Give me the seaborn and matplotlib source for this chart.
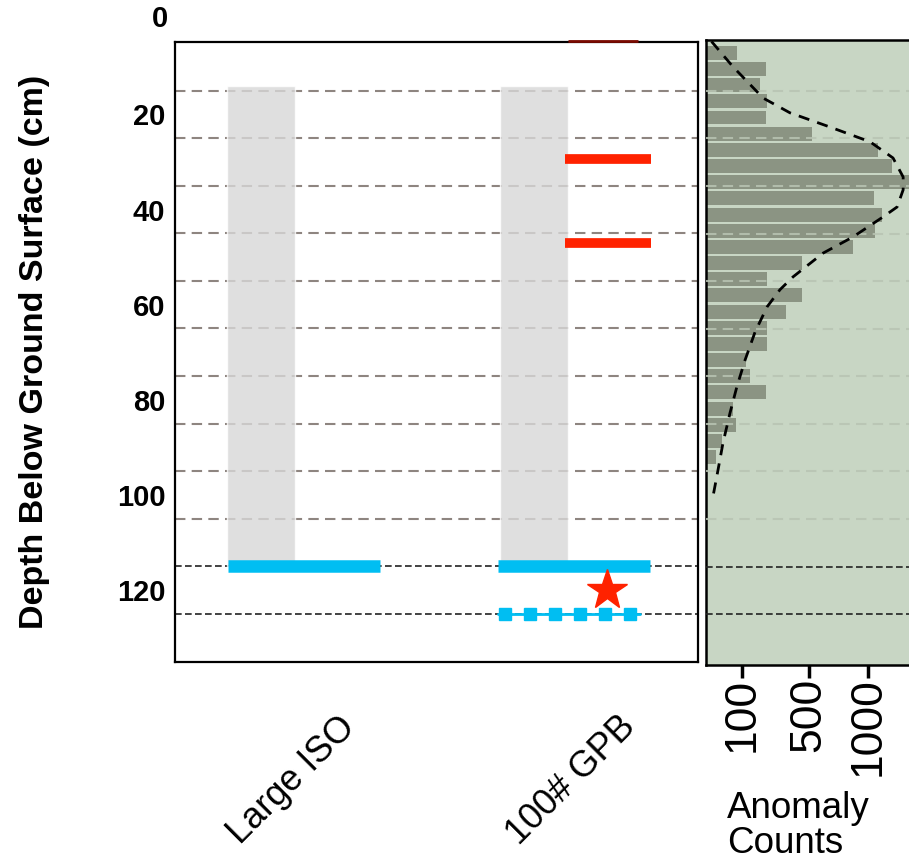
import numpy as np
import matplotlib
matplotlib.use("Agg")
import matplotlib.pyplot as plt
import matplotlib.transforms as mtransforms
import seaborn as sns

# ---- data ----
categories = ["Large ISO", "100# GPB"]
probe_top = [14, 14]           # cm, top of probed column
probe_bottom = [115, 115]      # cm, refusal depth
refusal_depth = [115, 115]
gpb_red_depths = [29.3, 47.0]
star_depth = 120
dotted_depth = 125
grid_light = [15, 25, 35, 45, 55, 65, 75, 85, 95, 105]
grid_dark = [115, 125]

hist_depth = [7.0, 10.4, 13.8, 17.2, 20.6, 24.0, 27.4, 30.8, 34.2, 37.6, 41.0, 44.4, 47.8,
              51.2, 54.6, 58.0, 61.4, 64.8, 68.2, 71.6, 75.0, 78.4, 81.8, 85.2, 88.6, 92.0]
hist_count = [78, 218, 185, 222, 218, 518, 1092, 1233, 1450, 1054, 1133, 1066, 858,
              445, 224, 446, 338, 224, 224, 117, 135, 218, 63, 75, 29, 14]

kde_depth = [4.6, 9.9, 16.5, 19.6, 22.6, 25.7, 29.1, 33.1, 35.8, 39.4, 41.5, 45.7,
             49.1, 54.1, 56.8, 60.4, 65.7, 71.6, 77.2, 82.7, 89.0, 94.7, 100.6]
kde_count = [6, 64, 202, 364, 663, 1018, 1245, 1350, 1350, 1287, 1144, 860,
             607, 385, 300, 224, 160, 113, 79, 54, 32, 19, 8]

sns.set_style("white")
plt.rcParams["font.family"] = ["Liberation Sans", "DejaVu Sans"]
plt.rcParams["text.color"] = "black"
plt.rcParams["xtick.color"] = "black"
plt.rcParams["ytick.color"] = "black"
plt.rcParams["axes.labelcolor"] = "black"

blue = "#00bef2"
red = "#ff2200"

fig = plt.figure(figsize=(9.09, 8.68), dpi=100)
ax = fig.add_axes([0.1925, 0.2373, 0.5754, 0.7143])
axh = fig.add_axes([0.7763, 0.2339, 0.2237, 0.7200])

# ---- left panel: probe columns ----
xpos = np.arange(len(categories))
ax.set_xlim(-0.625, 1.243)
ax.set_ylim(135.1, 4.8)

for d in grid_light:
    ax.axhline(d, color="#8e8580", ls=(0, (5, 3)), lw=1.5, zorder=1)
for d in grid_dark:
    ax.axhline(d, color="#222222", ls=(0, (4, 2)), lw=1.2, zorder=1)

ax.bar(xpos - 0.33 + np.array([0.012, -0.013]), np.array(probe_bottom) - np.array(probe_top),
       bottom=probe_top, width=0.243, color="#d8d8d8", alpha=0.8, zorder=2)
ax.hlines(refusal_depth, xpos - np.array([0.436, 0.471]), xpos + np.array([0.107, 0.071]),
          color=blue, lw=9, zorder=3)
ax.hlines(gpb_red_depths, xpos[1] - 0.232, xpos[1] + 0.075, color=red, lw=7, zorder=3)
ax.hlines(4.6, xpos[1] - 0.22, xpos[1] + 0.03, color="#7a0a00", lw=2, zorder=4, clip_on=False)
ax.plot([xpos[1] - 0.082], [star_depth], marker="*", ms=30, color=red, zorder=4)
ax.plot([xpos[1] - 0.471, xpos[1] + 0.036], [dotted_depth] * 2, color=blue, lw=2, zorder=3)
sq_x = np.linspace(xpos[1] - 0.446, xpos[1], 6)
ax.plot(sq_x, [dotted_depth] * len(sq_x), "s", ms=9, color=blue, zorder=4)

ax.set_xticks(xpos)
ax.set_xticklabels(categories, rotation=45, ha="right", va="center",
                   rotation_mode="anchor", fontsize=26)
ax.tick_params(axis="x", length=0, pad=43)
ax.set_yticks([20, 40, 60, 80, 100, 120])
ax.set_yticklabels(["20", "40", "60", "80", "100", "120"], fontsize=21, fontweight="bold")
ax.tick_params(axis="y", length=0, pad=7)
trans = mtransforms.blended_transform_factory(ax.transAxes, ax.transData)
ax.text(-0.0134, 0, "0", transform=trans, ha="right", va="center",
        fontsize=21, fontweight="bold", clip_on=False)
for s in ax.spines.values():
    s.set_color("black")
    s.set_linewidth(1.6)

# ---- right panel: anomaly histogram ----
axh.set_facecolor("#c8d6c4")
sns.barplot(x=hist_count, y=hist_depth, orient="y", native_scale=True, color="#8b9483",
            saturation=1, width=0.86, errorbar=None, ax=axh, zorder=2,
            edgecolor="none", linewidth=0)
sns.lineplot(x=kde_count, y=kde_depth, sort=False, estimator=None, color="black",
             lw=2, linestyle=(0, (4, 3)), ax=axh, zorder=4)

fwd = lambda v: np.sign(v) * np.abs(v) ** 0.65
inv = lambda v: np.sign(v) * np.abs(v) ** (1 / 0.65)
axh.set_xscale("function", functions=(fwd, inv))
axh.set_xlim(0, 1412)
axh.set_ylim(135.7, 4.3)

for d in grid_light:
    axh.axhline(d, color="#b8c4b3", alpha=0.85, ls=(0, (5, 3)), lw=1.5, zorder=3)
for d in grid_dark:
    axh.axhline(d, color="#222222", ls=(0, (4, 2)), lw=1.2, zorder=3)

axh.set_yticks([])
axh.set_xticks([100, 500, 1000])
axh.set_xticklabels(["100", "500", "1000"], rotation=90, va="top", fontsize=32)
axh.xaxis.set_minor_locator(matplotlib.ticker.NullLocator())
axh.tick_params(axis="x", bottom=True, length=9, width=2.5, pad=0, color="black")
axh.set_xlabel("")
axh.set_ylabel("")
for k in ["top", "bottom", "left"]:
    axh.spines[k].set_color("black")
    axh.spines[k].set_linewidth(1.8)
axh.spines["right"].set_visible(False)

fig.text(35 / 909, 1 - 351.5 / 868, "Depth Below Ground Surface (cm)", rotation=90,
         fontsize=24.5, fontweight="bold", ha="center", va="center")
fig.text(727 / 909, 1 - 791 / 868, "Anomaly\nCounts", fontsize=26.5, ha="left",
         va="top", linespacing=1.0, multialignment="left")

fig.savefig("out.png", dpi=100)
